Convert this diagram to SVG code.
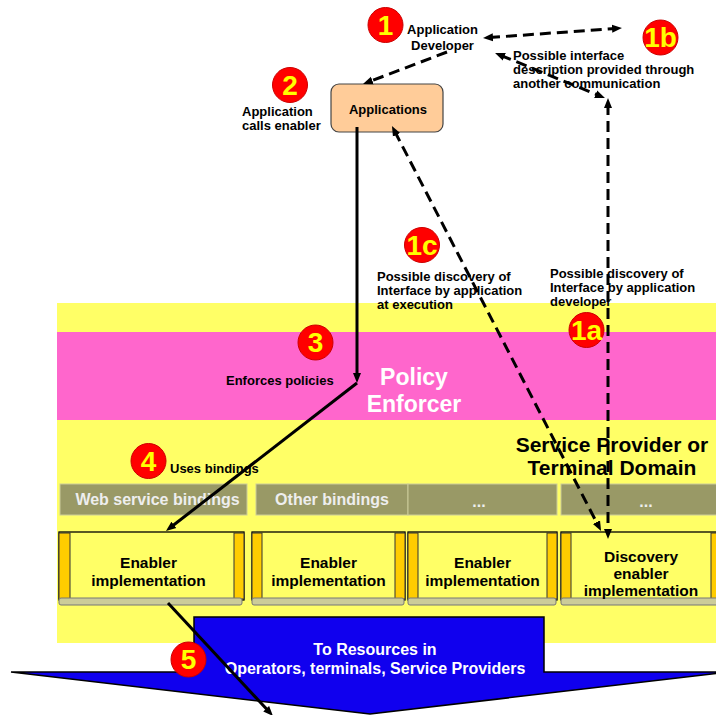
<svg xmlns="http://www.w3.org/2000/svg" width="716" height="715" viewBox="0 0 716 715">
<defs>
<style>
.t{font-family:"Liberation Sans",Arial,sans-serif;font-weight:bold;font-size:13px;fill:#000}
.big{font-family:"Liberation Sans",Arial,sans-serif;font-weight:bold;font-size:21px;fill:#000;text-anchor:middle}
.pe{font-family:"Liberation Sans",Arial,sans-serif;font-weight:bold;font-size:23px;fill:#FFFFFF;text-anchor:middle}
.rt{font-family:"Liberation Sans",Arial,sans-serif;font-weight:bold;font-size:16px;fill:#FFFFFF;text-anchor:middle}
.num{font-family:"Liberation Sans",Arial,sans-serif;font-weight:bold;font-size:28px;fill:#FFFF00;text-anchor:middle}
.badge{fill:#FF0000;stroke:#CC0000;stroke-width:1}
.dash{fill:none;stroke:#000;stroke-width:3;stroke-dasharray:11 6}
.solid{fill:none;stroke:#000;stroke-width:3}
.bind{fill:#999966;stroke:#CCCC99;stroke-width:1}
.bt{font-family:"Liberation Sans",Arial,sans-serif;font-weight:bold;font-size:16px;fill:#EEEEEE;text-anchor:middle}
.body{fill:#FFFF66;stroke:#000;stroke-width:1.3}
.strip{fill:#FFCC00;stroke:#333;stroke-width:1}
.bar{fill:#CCCC99;stroke:#777;stroke-width:1}
.et{font-family:"Liberation Sans",Arial,sans-serif;font-weight:bold;font-size:15.5px;fill:#000;text-anchor:middle}
</style>
<marker id="ah" viewBox="0 0 10 10" refX="4" refY="5" markerWidth="10" markerHeight="10" markerUnits="userSpaceOnUse" orient="auto-start-reverse">
<path d="M0,1 L10,5 L0,9 z" fill="#000"/>
</marker>
</defs>
<rect width="716" height="715" fill="#FFFFFF"/>

<g id="domain">
<rect x="57" y="303" width="659" height="340" fill="#FFFF66"/>
<text class="big" x="612" y="452">Service Provider or</text>
<text class="big" x="612" y="475">Terminal Domain</text>
</g>

<g id="policy-enforcer">
<rect x="57" y="332" width="659" height="88" fill="#FF66CC"/>
<text class="pe" x="414" y="385">Policy</text>
<text class="pe" x="414" y="411.5">Enforcer</text>
</g>

<g id="bindings">
<rect class="bind" x="60" y="484" width="187" height="31"/>
<text class="bt" x="157.5" y="505">Web service bindings</text>
<rect class="bind" x="256" y="484" width="152" height="31"/>
<text class="bt" x="332" y="505">Other bindings</text>
<rect class="bind" x="408" y="484" width="149" height="31"/>
<text class="bt" x="479" y="507">...</text>
<rect class="bind" x="561" y="484" width="160" height="31"/>
<text class="bt" x="646" y="507">...</text>
</g>

<g id="enabler-1">
<rect class="body" x="59" y="532" width="185" height="68"/>
<rect class="strip" x="59" y="533" width="11" height="66"/>
<rect class="strip" x="234" y="533" width="10" height="66"/>
<rect class="bar" x="59" y="598" width="183" height="7" rx="2"/>
<text class="et" x="148.5" y="568">Enabler</text>
<text class="et" x="148.5" y="586">implementation</text>
</g>
<g id="enabler-2">
<rect class="body" x="252" y="532" width="153" height="68"/>
<rect class="strip" x="252" y="533" width="10" height="66"/>
<rect class="strip" x="395" y="533" width="10" height="66"/>
<rect class="bar" x="252" y="598" width="152" height="7" rx="2"/>
<text class="et" x="328.5" y="568">Enabler</text>
<text class="et" x="328.5" y="586">implementation</text>
</g>
<g id="enabler-3">
<rect class="body" x="408" y="532" width="149" height="68"/>
<rect class="strip" x="408" y="533" width="10" height="66"/>
<rect class="strip" x="547" y="533" width="10" height="66"/>
<rect class="bar" x="408" y="598" width="148" height="7" rx="2"/>
<text class="et" x="482.5" y="568">Enabler</text>
<text class="et" x="482.5" y="586">implementation</text>
</g>
<g id="discovery-enabler">
<rect class="body" x="561" y="532" width="160" height="68"/>
<rect class="strip" x="561" y="533" width="10" height="66"/>
<rect class="strip" x="711" y="533" width="10" height="66"/>
<rect class="bar" x="561" y="598" width="159" height="7" rx="2"/>
<text class="et" x="641" y="562">Discovery</text>
<text class="et" x="641" y="579">enabler</text>
<text class="et" x="641" y="596">implementation</text>
</g>

<g id="resources">
<polygon points="194,617 544,617 544,672 729,672 370,714 11,672 194,672" fill="#1000EE" stroke="#000" stroke-width="1.5"/>
<text class="rt" x="375" y="655">To Resources in</text>
<text class="rt" x="375" y="674">Operators, terminals, Service Providers</text>
</g>

<g id="applications">
<rect x="331" y="84" width="112" height="48" rx="8" fill="#FFCC99" stroke="#444" stroke-width="1.2"/>
<text class="t" x="388" y="114" text-anchor="middle">Applications</text>
</g>

<g id="developer">
<text class="t" x="442.5" y="34" text-anchor="middle">Application</text>
<text class="t" x="442.5" y="49.5" text-anchor="middle">Developer</text>
</g>

<g id="labels">
<text class="t" x="513" y="60">Possible interface</text>
<text class="t" x="513" y="74">description provided through</text>
<text class="t" x="513" y="88">another communication</text>
<text class="t" x="242" y="116">Application</text>
<text class="t" x="242" y="130">calls enabler</text>
<text class="t" x="377" y="281">Possible discovery of</text>
<text class="t" x="377" y="295">Interface by application</text>
<text class="t" x="377" y="309">at execution</text>
<text class="t" x="550" y="278">Possible discovery of</text>
<text class="t" x="550" y="292">Interface by application</text>
<text class="t" x="550" y="306">developer</text>
<text class="t" x="226" y="385">Enforces policies</text>
<text class="t" x="170" y="473">Uses bindings</text>
</g>

<g id="badges">
<g id="badge-1"><circle class="badge" cx="385.5" cy="25" r="17.5"/><text class="num" x="385.5" y="34.5">1</text></g>
<g id="badge-1b"><circle class="badge" cx="660.5" cy="37.5" r="17.5"/><text class="num" x="660.5" y="47">1b</text></g>
<g id="badge-2"><circle class="badge" cx="290" cy="85" r="17.5"/><text class="num" x="290" y="94.5">2</text></g>
<g id="badge-1c"><circle class="badge" cx="422" cy="245" r="17.5"/><text class="num" x="422" y="254.5">1c</text></g>
<g id="badge-1a"><circle class="badge" cx="586.5" cy="330" r="17.5"/><text class="num" x="586.5" y="339.5">1a</text></g>
<g id="badge-3"><circle class="badge" cx="315.5" cy="342.5" r="17.5"/><text class="num" x="315.5" y="352">3</text></g>
<g id="badge-4"><circle class="badge" cx="148.5" cy="461" r="17.5"/><text class="num" x="148.5" y="470.5">4</text></g>
<g id="badge-5"><circle class="badge" cx="188.5" cy="659.5" r="17.5"/><text class="num" x="188.5" y="669">5</text></g>
</g>

<g id="connectors">
<line class="dash" x1="447" y1="52" x2="368.6" y2="81.9" marker-end="url(#ah)"/>
<line class="dash" x1="489" y1="37.6" x2="616" y2="28.4" marker-start="url(#ah)" marker-end="url(#ah)"/>
<line class="dash" x1="500.6" y1="55.3" x2="599.4" y2="95.7" marker-start="url(#ah)" marker-end="url(#ah)"/>
<line class="dash" x1="608" y1="104" x2="608" y2="533" marker-start="url(#ah)" marker-end="url(#ah)"/>
<line class="dash" x1="394.7" y1="131.3" x2="598.3" y2="525.7" marker-start="url(#ah)" marker-end="url(#ah)"/>
<line class="solid" x1="357" y1="127" x2="357" y2="377" marker-end="url(#ah)"/>
<line class="solid" x1="357" y1="383" x2="170.7" y2="527.3" marker-end="url(#ah)"/>
<line class="solid" x1="168" y1="603" x2="268.9" y2="711.6" marker-end="url(#ah)"/>
</g>
</svg>
